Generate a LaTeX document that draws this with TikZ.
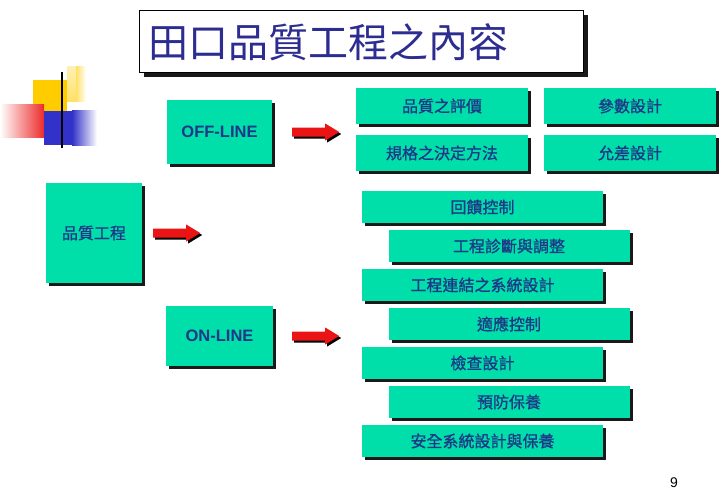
\documentclass[tikz,border=0pt]{standalone}
\usepackage{fontspec}
\setmainfont{Liberation Sans}
\newfontfamily\cjk{Noto Sans CJK TC}
\newfontfamily\cjkbox[FakeBold=1]{Noto Sans CJK TC}
\usetikzlibrary{shadows,calc}

\definecolor{boxgreen}{RGB}{0,222,170}
\definecolor{textblue}{RGB}{30,55,135}
\definecolor{titleblue}{RGB}{45,45,145}
\definecolor{arrowred}{RGB}{235,20,20}
\definecolor{logoyellow}{RGB}{255,204,0}
\definecolor{logoblue}{RGB}{50,50,200}

% red block arrow with its black shadow, tail at #1
\newcommand{\redarrow}[1]{%
  \fill[black,shift={#1},xshift=2pt,yshift=-2pt]
    (0,-4.5)--(33,-4.5)--(33,-8.5)--(47,0)--(33,8.5)--(33,4.5)--(0,4.5)--cycle;
  \fill[arrowred,shift={#1}]
    (0,-4.5)--(33,-4.5)--(33,-8.5)--(47,0)--(33,8.5)--(33,4.5)--(0,4.5)--cycle;}

\begin{document}
\begin{tikzpicture}[x=1pt,y=-1pt,
  box/.style={fill=boxgreen,text=textblue,inner sep=0pt,
    font=\cjkbox\fontsize{16}{18}\selectfont,
    drop shadow={shadow xshift=3pt,shadow yshift=-3pt,fill=black,opacity=.9}},
  linebox/.style={box,font=\bfseries\fontsize{16.5}{18}\selectfont},
  itembox/.style={box,minimum width=172pt,minimum height=35pt},
  stepbox/.style={box,minimum width=241pt,minimum height=32pt}]
  \useasboundingbox (0,0) rectangle (722,500);

  % logo
  \fill[logoyellow] (33,80) rectangle (67,111);
  \shade[top color=logoyellow!30,bottom color=logoyellow!60] (67,67) rectangle (76,102);
  \shade[left color=logoyellow!60,right color=white] (76,67) rectangle (86,102);
  \shade[left color=white,right color=arrowred!90] (0,105) rectangle (44,137);
  \fill[logoblue] (44,111) rectangle (72,145);
  \shade[left color=logoblue,right color=white] (72,111) rectangle (97,145);
  \draw[black,line width=1.2pt] (62,72)--(62,148);

  % title
  \node[draw=black,fill=white,minimum width=444pt,minimum height=62pt,inner sep=0pt,
    drop shadow={shadow xshift=5pt,shadow yshift=-5pt,fill=black,opacity=.9}]
    (title) at (361,41) {};
  \node[text=titleblue,font=\cjk\fontsize{40}{44}\selectfont,anchor=west]
    (titletext) at (145,42) {田口品質工程之內容};

  % left column
  \node[box,minimum width=96pt,minimum height=100pt] (quality) at (94,233) {品質工程};
  \node[linebox,minimum width=105pt,minimum height=64pt] (offline) at (219.5,132) {OFF-LINE};
  \node[linebox,minimum width=107pt,minimum height=60pt] (online) at (219.5,336) {ON-LINE};

  \redarrow{($(offline.east)+(20,0)$)}
  \redarrow{($(quality.east)+(11,0)$)}
  \redarrow{($(online.east)+(19,0)$)}

  % off-line items
  \node[itembox] (evaluate) at (442,106) {品質之評價};
  \node[itembox] (param) at (630,106) {參數設計};
  \node[itembox,minimum height=36pt] (spec) at (442,153) {規格之決定方法};
  \node[itembox,minimum height=36pt] (toler) at (630,153) {允差設計};

  % on-line items
  \node[stepbox] (feedback) at (482.5,207) {回饋控制};
  \node[stepbox] (diagnose) at (509,246) {工程診斷與調整};
  \node[stepbox] (linksys) at (482.5,285) {工程連結之系統設計};
  \node[stepbox] (adaptive) at (509,324) {適應控制};
  \node[stepbox] (inspect) at (482.5,363) {檢查設計};
  \node[stepbox] (prevent) at (509,402) {預防保養};
  \node[stepbox] (safety) at (482.5,441) {安全系統設計與保養};

  \node[font=\fontsize{14}{16}\selectfont] (page) at (674,483) {9};
\end{tikzpicture}
\end{document}
